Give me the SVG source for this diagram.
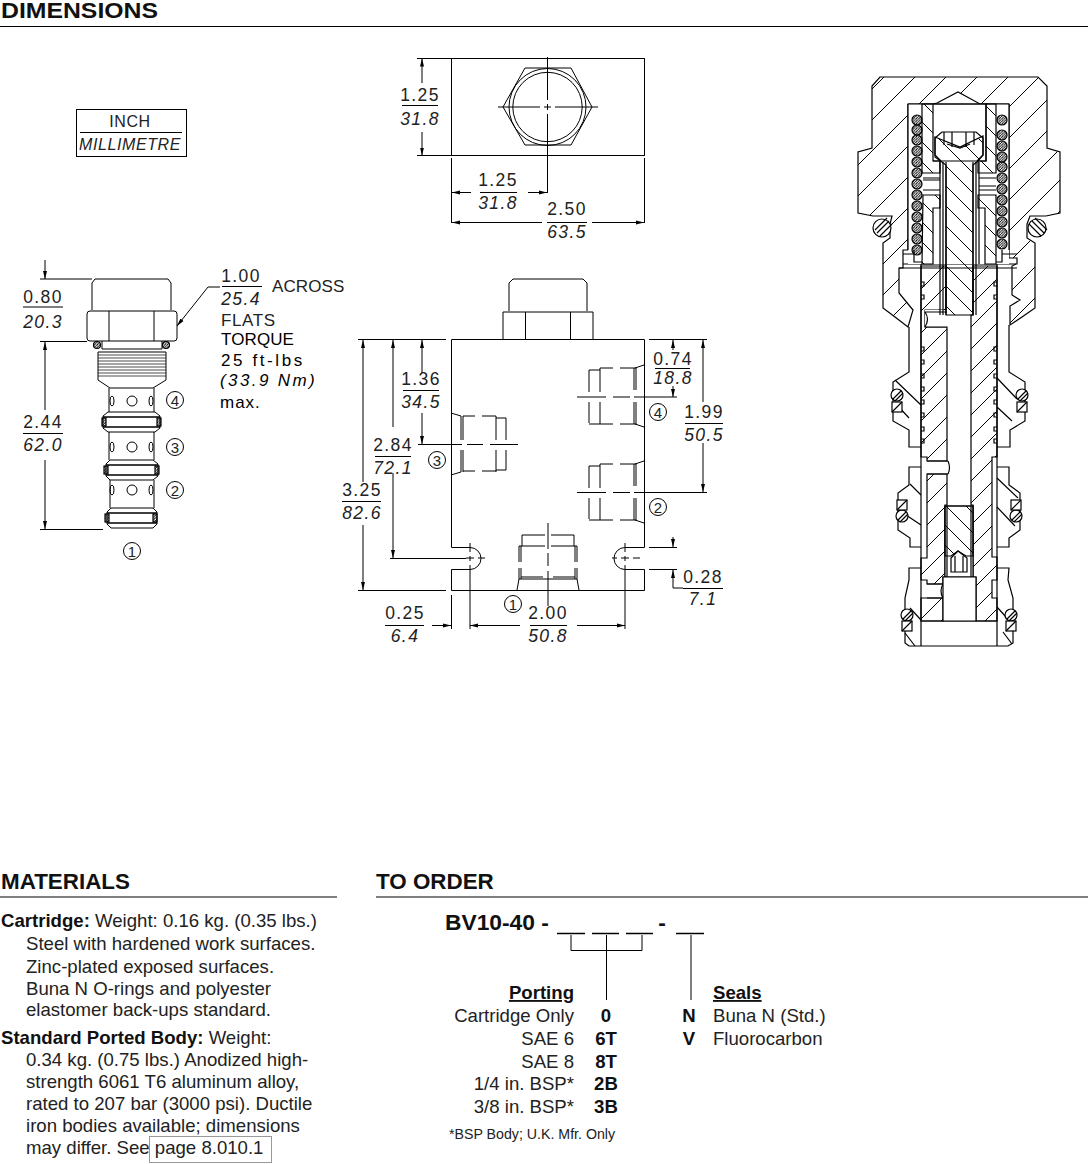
<svg xmlns="http://www.w3.org/2000/svg" width="1088" height="1164" viewBox="0 0 1088 1164">
<style>
.h{font:bold 22.4px "Liberation Sans",Arial,sans-serif;fill:#111}
.b{font:18.6px "Liberation Sans",Arial,sans-serif;fill:#222}
.bb{font:bold 18.6px "Liberation Sans",Arial,sans-serif;fill:#111}
.d{font:17.5px "Liberation Sans",Arial,sans-serif;letter-spacing:1.4px;text-anchor:middle;fill:#222}
.t{font:17px "Liberation Sans",Arial,sans-serif;letter-spacing:.1px;fill:#222}
.c{font:15px "Liberation Sans",Arial,sans-serif;text-anchor:middle;fill:#222}
.i{font-style:italic}
.l,.l *{fill:none;stroke:#000;stroke-width:1}
.a{marker-end:url(#ar)}
.o,.o *{stroke:#000;stroke-width:1.2}
.w{fill:#fff}.n{fill:none}
.f1{fill:url(#p30)}.f2{fill:url(#p22)}.f3{fill:url(#b20)}
.dn{fill:url(#dd)}
</style>
<defs>
<marker id="ar" markerUnits="userSpaceOnUse" markerWidth="10" markerHeight="6" refX="8" refY="3" orient="auto-start-reverse"><path d="M0 1L8 3L0 5Z" fill="#000"/></marker>
<pattern id="p30" patternUnits="userSpaceOnUse" width="31" height="31"><path d="M-2 33L33 -2" stroke="#000" fill="none"/></pattern>
<pattern id="p22" patternUnits="userSpaceOnUse" width="22" height="22"><path d="M-2 24L24 -2" stroke="#000" fill="none"/></pattern>
<pattern id="b20" patternUnits="userSpaceOnUse" width="20" height="20"><path d="M-2 -2L22 22" stroke="#000" fill="none"/></pattern>
<pattern id="dd" patternUnits="userSpaceOnUse" width="2.6" height="2.6"><path d="M-1 3.600L3.600 -1" stroke="#000" stroke-width="1" fill="none"/></pattern>
</defs>
<rect width="1088" height="1164" fill="#fff"/>

<g id="headers">
<text x="1" y="18" class="h" textLength="157" lengthAdjust="spacingAndGlyphs">DIMENSIONS</text>
<path d="M0 26.500H1088" stroke="#000"/>
<text x="1" y="889" class="h">MATERIALS</text>
<path d="M0 897H337" stroke="#000"/>
<text x="376" y="889" class="h">TO ORDER</text>
<path d="M376 897H1088" stroke="#000"/>
</g>

<g id="legend">
<rect x="76.500" y="109.500" width="110" height="47" fill="none" stroke="#000"/>
<path d="M80 132.500H182" stroke="#000"/>
<text x="130" y="127" class="d" style="font-size:16px;letter-spacing:.6px">INCH</text>
<text x="130" y="150" class="d i" style="font-size:16px;letter-spacing:.6px">MILLIMETRE</text>
</g>

<g id="top-view">
<g class="l">
<rect x="451.500" y="58.500" width="193" height="97"/>
<path d="M503 107L525 68H571L592 107L571 145H525Z"/>
<circle cx="547.500" cy="107" r="38.500"/><circle cx="547.500" cy="107" r="34.700"/>
<path d="M498 107H540M544 107H551M555 107H598M547.500 57V100M547.500 104V110M547.500 114V193"/>
<path d="M417 58.500H451M417 155.500H451M451.500 158V223M644.500 158V223"/>
<path class="a" d="M422 83V58.500"/><path class="a" d="M422 132V155.500"/>
<path class="a" d="M471 192.500H452"/><path class="a" d="M528 192.500H547"/>
<path class="a" d="M542 222.500H452"/><path class="a" d="M592 222.500H644"/>
<path d="M402 105.500H438M480 192.500H517M547 222.500H587"/>
</g>
<text x="420" y="101" class="d">1.25</text><text x="420" y="125" class="d i">31.8</text>
<text x="498" y="186" class="d">1.25</text><text x="498" y="209" class="d i">31.8</text>
<text x="567" y="215" class="d">2.50</text><text x="567" y="238" class="d i">63.5</text>
</g>

<g id="cartridge">
<g class="l">
<path d="M92 310V283L95 279H168L171 283V310"/>
<path d="M90 311H174Q177 311 177 314V338Q177 341 174 341H90Q87 341 87 338V314Q87 311 90 311ZM109 311V341M154 311V341"/>
<path d="M102 341V349H162V341"/>
<path d="M98 352H166V380L153 388H110L98 380Z"/>
<path d="M98 355H166M98 358H166M98 361H166M98 364H166M98 367H166M98 370H166M98 373H166M98 376H166" style="stroke-width:.7"/>
<path d="M109 388V412M154 388V412M109 432V460M154 432V460M110 480V508M154 480V508"/>
<path d="M108 412H155L160 416V428L155 432H108L103 428V416Z"/>
<path d="M103 417H160M103 427H160" style="stroke-width:1.6"/>
<path d="M110 460H153L158 464V476L153 480H110L106 476V464Z"/>
<path d="M106 465H158M106 475H158" style="stroke-width:1.6"/>
<path d="M111 508H153L157 512V524L153 528H111L107 524V512Z"/>
<path d="M107 513H157M107 523H157" style="stroke-width:1.6"/>
<circle cx="132" cy="401" r="5"/><ellipse cx="112" cy="401" rx="2" ry="5"/><ellipse cx="151" cy="401" rx="2" ry="5"/>
<circle cx="132" cy="447" r="5"/><ellipse cx="112" cy="447" rx="2" ry="5"/><ellipse cx="151" cy="447" rx="2" ry="5"/>
<circle cx="132" cy="490" r="5"/><ellipse cx="112" cy="490" rx="2" ry="5"/><ellipse cx="151" cy="490" rx="2" ry="5"/>
<path d="M40 279H92M40 341.500H87M40 529.500H103"/>
<path class="a" d="M45 260V279"/><path class="a" d="M45 410V342"/><path class="a" d="M45 460V529"/>
<path d="M23 307H63M23 433.500H63M222 286.500H262"/>
<path class="a" d="M220 287H208L177 326"/>
<circle cx="175" cy="400" r="8.500"/><circle cx="175" cy="447" r="8.500"/><circle cx="175" cy="490" r="8.500"/><circle cx="132" cy="551" r="8.500"/>
</g>
<g class="o">
<circle cx="97" cy="345" r="3.500" class="dn"/><circle cx="166" cy="345" r="3.500" class="dn"/>
<rect x="102" y="418" width="4" height="8" class="dn"/><rect x="157" y="418" width="4" height="8" class="dn"/>
<rect x="104" y="466" width="4" height="8" class="dn"/><rect x="155" y="466" width="4" height="8" class="dn"/>
<rect x="105" y="514" width="4" height="8" class="dn"/><rect x="153" y="514" width="4" height="8" class="dn"/>
</g>
<text x="43" y="303" class="d">0.80</text><text x="43" y="328" class="d i">20.3</text>
<text x="43" y="428" class="d">2.44</text><text x="43" y="451" class="d i">62.0</text>
<text x="241" y="282" class="d">1.00</text><text x="241" y="305" class="d i">25.4</text>
<text x="272" y="292" class="t">ACROSS</text><text x="221" y="326" class="t" style="letter-spacing:.6px">FLATS</text>
<text x="221" y="345" class="t" style="fill:#000">TORQUE</text>
<text x="221" y="366" class="t" style="fill:#000;letter-spacing:2.600px">25 ft-lbs</text>
<text x="220" y="386" class="t i" style="fill:#000;letter-spacing:2.400px">(33.9 Nm)</text>
<text x="220" y="408" class="t" style="fill:#000;letter-spacing:1px">max.</text>
<text x="175" y="405.500" class="c">4</text><text x="175" y="452.500" class="c">3</text><text x="175" y="495.500" class="c">2</text><text x="132" y="556.500" class="c">1</text>
</g>

<g id="ported-body">
<g class="l">
<path d="M451.500 339.500H644.500V547.500H625A11 11 0 0 0 625 569.500H644.500V590.500H451.500V569.500H470A11 11 0 0 0 470 547.500H451.500Z"/>
<path d="M509 311V283L513 279H583L587 283V311M503 339V312H593V339M525.500 312V339M570.500 312V339"/>
<path d="M644 365L635 368M635 424L644 427M589 370V392M589 402V423M600 368V392M600 402V424M634 368V390M634 402V424M636 368V390M636 402V424M589 370H600M600 368H613M620 368H636M589 424H600M600 424H613M620 424H636M577 397H606M613 397H630M634 397H677"/>
<path d="M644 461L635 464M635 520L644 523M589 466V488M589 498V519M600 464V488M600 498V520M634 464V486M634 498V520M636 464V486M636 498V520M589 466H600M600 464H613M620 464H636M589 520H600M600 520H613M620 520H636M577 492.500H606M613 492.500H630M634 492.500H707"/>
<path d="M451 413L461 416M461 472L451 475M461 416V440M461 450V472M463 416V440M463 450V472M496 416V440M496 450V472M506 418V440M506 450V470M463 416H475M482 416H496M496 418H506M463 471H475M482 471H496M496 470H506M418 444.500H462M467 444.500H483M490 444.500H518"/>
<path d="M517 590L519 579H577L579 590M519 546V562M519 568V579M521 546V562M521 568V579M575 546V562M575 568V579M577 546V562M577 568V579M522 535V546M574 535V546M522 535H545M551 535H574M519 546H545M551 546H577M521 577H543M553 577H575M548 523V549M548 553V566M548 571V606"/>
<path d="M470 543V552M470 556V561M470 565V629M625 543V552M625 556V561M625 565V629M466 558H474M621 558H629M478 558H485M633 558H640M612 558H617"/>
<path d="M358 339.500H446M358 590.500H446M649 339.500H707M649 547.500H677M649 569.500H677M451.500 595V629"/>
<path class="a" d="M363 482V340"/><path class="a" d="M363 525V590"/>
<path class="a" d="M393 427V340"/><path class="a" d="M393 473V558"/>
<path class="a" d="M422 373V340"/><path class="a" d="M422 413V444"/>
<path d="M390 558.500H466"/>
<path class="a" d="M673 350V340"/><path class="a" d="M673 386V397"/>
<path class="a" d="M703 402V340"/><path class="a" d="M703 443V492"/>
<path class="a" d="M673 537V547"/><path class="a" d="M683 588H673V570"/>
<path class="a" d="M432 625.500H451"/>
<path class="a" d="M520 625.500H470"/><path class="a" d="M577 625.500H625"/>
<path d="M403 390.500H439M375 456.500H411M342 501.500H381M655 368.500H690M685 423.500H723M683 588.500H723M385 625.500H424M530 625.500H567"/>
<circle cx="658" cy="412" r="8.500"/><circle cx="658" cy="507" r="8.500"/><circle cx="437" cy="460" r="8.500"/><circle cx="513" cy="604" r="8.500"/>
</g>
<text x="421" y="385" class="d">1.36</text><text x="421" y="408" class="d i">34.5</text>
<text x="393" y="451" class="d">2.84</text><text x="393" y="474" class="d i">72.1</text>
<text x="362" y="496" class="d">3.25</text><text x="362" y="519" class="d i">82.6</text>
<text x="673" y="365" class="d">0.74</text><text x="673" y="384" class="d i">18.8</text>
<text x="704" y="418" class="d">1.99</text><text x="704" y="441" class="d i">50.5</text>
<text x="703" y="583" class="d">0.28</text><text x="703" y="605" class="d i">7.1</text>
<text x="405" y="619" class="d">0.25</text><text x="405" y="642" class="d i">6.4</text>
<text x="548" y="619" class="d">2.00</text><text x="548" y="642" class="d i">50.8</text>
<text x="658" y="417.500" class="c">4</text><text x="658" y="512.500" class="c">2</text><text x="437" y="465.500" class="c">3</text><text x="513" y="609.500" class="c">1</text>
</g>

<g id="section-view" class="o">
<path class="f1" d="M880 77H1038L1047 86V148L1060 152V213L1046 216H1030L1027 224V238L1035 243V308L1022 317L1010 325V306L1020 300L1012 295V266L1016 264H1017V258H1009V104H980L958 92L937 103L933 104H908V250H903V268H899V293L913 310L908 327L895 317L883 308V243L890 238V224L892 216H873L858 213V152L872 148V86Z"/>
<path class="n" d="M909 327V372L893 382V421L909 430V447H921M921 467H909V485L898 493V530L910 538V547H921M921 568H909V580L905 598V643L909 646H1008L1013 643V598L1008 580L1009 568H997M997 547H1009V538L1020 530V493L1009 485V467H997M997 447H1010V430L1025 421V382L1009 372V325"/>
<path d="M899 268H1017M903 264H1016M921 264V646M997 264V646M921 621H997" fill="none"/>
<path fill="none" d="M895 380L921 405M897 405L909 418M910 484L921 495M903 513L921 525M997 378L1017 399M997 407L1012 421M997 478L1018 498M997 507L1015 526M910 608L921 620M905 633L915 646M997 607L1006 617M1003 632L1012 644"/>
<path class="f2" d="M921 266H946V310H925V327H947V461H927V457H921Z"/>
<path class="f2" d="M927 474H947V505H945V577H943V584H927V580H921V558H927Z"/>
<path class="f2" d="M921 598H943V621H921Z"/>
<path class="f2" d="M973 266H997V457H992V557H997V580H992V598H997V621H976V577H973V505H971V315H973Z"/>
<path class="w" d="M925 310H947V327H925Z" style="stroke:none"/>
<path d="M925 312H947M925 327H947M925 312Q930 319 925 327M927 461H948M927 474H948M948 461Q951 468 948 474M927 584H943M927 598H943M943 584Q939 591 943 598" fill="none"/>
<path class="w" d="M945 506H973V577H945Z"/>
<path class="f3" d="M945 506H973V556H966L958 551L951 556H945Z"/>
<path d="M943 577H976V621H943Z" class="w"/>
<path class="w" d="M951 572V558L958 551L967 558V572Z"/>
<path d="M955 556V572M963 556V572M947 506V577M971 506V577" fill="none"/>
<path class="w" d="M908 104H1009V264H908Z" style="stroke:none"/>
<path d="M908 104H1009M908 104V250M1009 104V250" fill="none"/>
<path class="f3" d="M922 104H933V161H940V173H922Z"/>
<path class="f3" d="M986 104H996V173H978V161H986Z"/>
<path class="f3" d="M923 195H940V208H933V264H922Z"/>
<path class="f3" d="M978 195H996V264H985V208H978Z"/>
<path d="M933 104H986V161H979M933 161H940M923 178H940M923 190H940M979 178H996M979 190H996M923 180H940M979 186H996M914 250V262H922M1002 250V262H996M903 254H914M1002 254H1017" fill="none"/>
<path d="M940 162V315M943 162V315M946 162V315M973 162V315M976 162V315M979 162V264" fill="none"/>
<path class="w" d="M935 138L942 132H976L983 138V155L977 161H941L935 155Z"/>
<path class="f3" d="M935 137L960 147L983 136V155L978 161L973 165V315H946V165L935 157Z"/>
<path d="M944 132V145M952 132V147M966 132V147M974 132V145M947 144L960 148L970 144" fill="none"/>
<g class="dn">
<circle cx="917" cy="120" r="5"/><circle cx="917" cy="130" r="5"/><circle cx="917" cy="140" r="5"/><circle cx="917" cy="151" r="5"/><circle cx="917" cy="162" r="5"/><circle cx="917" cy="173" r="5"/><circle cx="917" cy="184" r="5"/><circle cx="917" cy="195" r="5"/><circle cx="917" cy="206" r="5"/><circle cx="917" cy="217" r="5"/><circle cx="917" cy="228" r="5"/><circle cx="917" cy="239" r="5"/><circle cx="917" cy="250" r="5"/>
<circle cx="1002" cy="120" r="5"/><circle cx="1002" cy="135" r="5"/><circle cx="1002" cy="146" r="5"/><circle cx="1002" cy="157" r="5"/><circle cx="1002" cy="167" r="5"/><circle cx="1002" cy="178" r="5"/><circle cx="1002" cy="189" r="5"/><circle cx="1002" cy="200" r="5"/><circle cx="1002" cy="211" r="5"/><circle cx="1002" cy="222" r="5"/><circle cx="1002" cy="233" r="5"/><circle cx="1002" cy="244" r="5"/>
</g>
<g class="w">
<circle cx="882" cy="228" r="9"/><circle cx="1037" cy="228" r="9"/>
<circle cx="897" cy="395" r="6"/><circle cx="1022" cy="395" r="6"/>
<circle cx="902" cy="516" r="6"/><circle cx="1016" cy="516" r="6"/>
<circle cx="907" cy="615" r="6"/><circle cx="1011" cy="615" r="6"/>
<rect x="892" y="402" width="10" height="10"/><rect x="1017" y="402" width="10" height="10"/>
<rect x="897" y="500" width="10" height="10"/><rect x="1011" y="500" width="10" height="10"/>
<rect x="902" y="621" width="10" height="10"/><rect x="1006" y="621" width="10" height="10"/>
</g>
<path fill="none" d="M877 233L889 221M880 236L892 224M875 230L887 218M1032 221L1044 233M1029 224L1041 236M1035 218L1047 230M893 399L901 391M895 401L903 393M1018 399L1026 391M1020 401L1028 393M898 520L906 512M900 522L908 514M1012 520L1020 512M1014 522L1022 514M903 619L911 611M905 621L913 613M1007 619L1015 611M1009 621L1017 613M892 412L902 402M897 510L907 500M1011 510L1021 500M1017 412L1027 402M902 631L912 621M1006 631L1016 621"/>
<path fill="none" d="M921 282h3v4h-3M921 295h3v4h-3M921 347h3v4h-3M921 360h3v4h-3M921 374h3v4h-3M921 387h3v4h-3M921 400h3v4h-3M921 413h3v4h-3M921 427h3v4h-3M921 439h3v4h-3M997 282h-3v4h3M997 295h-3v4h3M997 347h-3v4h3M997 360h-3v4h3M997 374h-3v4h3M997 387h-3v4h3M997 400h-3v4h3M997 413h-3v4h3M997 427h-3v4h3M997 439h-3v4h3"/>
</g>

<g id="materials">
<text x="1" y="927" class="b"><tspan class="bb">Cartridge:</tspan> Weight: 0.16 kg. (0.35 lbs.)</text>
<text x="26" y="950" class="b">Steel with hardened work surfaces.</text>
<text x="26" y="973" class="b">Zinc-plated exposed surfaces.</text>
<text x="26" y="995" class="b">Buna N O-rings and polyester</text>
<text x="26" y="1016" class="b">elastomer back-ups standard.</text>
<text x="1" y="1044" class="b"><tspan class="bb">Standard Ported Body:</tspan> Weight:</text>
<text x="26" y="1066" class="b">0.34 kg. (0.75 lbs.) Anodized high-</text>
<text x="26" y="1088" class="b">strength 6061 T6 aluminum alloy,</text>
<text x="26" y="1110" class="b">rated to 207 bar (3000 psi). Ductile</text>
<text x="26" y="1132" class="b">iron bodies available; dimensions</text>
<text x="26" y="1154" class="b">may differ. See page 8.010.1</text>
<rect x="149.500" y="1136.500" width="122" height="26" fill="none" stroke="#999"/>
</g>

<g id="to-order">
<text x="445" y="930" style="font:bold 22.8px 'Liberation Sans',Arial,sans-serif;fill:#111">BV10-40 -</text>
<text x="662" y="930" style="font:bold 22.8px 'Liberation Sans',Arial,sans-serif;fill:#111" text-anchor="middle">-</text>
<path d="M557 933.500H585M592 933.500H619M626 933.500H653M676 933.500H704" stroke="#000" stroke-width="1.6" fill="none"/>
<g id="order-connectors" class="l"><path d="M571 935V950.500H642V935M606.500 935V1000M691 935V1000"/></g>
<text x="574" y="999" class="bb" text-anchor="end" text-decoration="underline">Porting</text>
<text x="713" y="999" class="bb" text-decoration="underline">Seals</text>
<g text-anchor="end">
<text x="574" y="1022" class="b">Cartridge Only</text><text x="574" y="1045" class="b">SAE 6</text><text x="574" y="1068" class="b">SAE 8</text><text x="574" y="1090" class="b">1/4 in. BSP*</text><text x="574" y="1113" class="b">3/8 in. BSP*</text>
</g>
<g text-anchor="middle">
<text x="606" y="1022" class="bb">0</text><text x="606" y="1045" class="bb">6T</text><text x="606" y="1068" class="bb">8T</text><text x="606" y="1090" class="bb">2B</text><text x="606" y="1113" class="bb">3B</text>
<text x="689" y="1022" class="bb">N</text><text x="689" y="1045" class="bb">V</text>
</g>
<text x="713" y="1022" class="b">Buna N (Std.)</text><text x="713" y="1045" class="b">Fluorocarbon</text>
<text x="449" y="1139" class="b" style="font-size:14.200px">*BSP Body; U.K. Mfr. Only</text>
</g>
</svg>
